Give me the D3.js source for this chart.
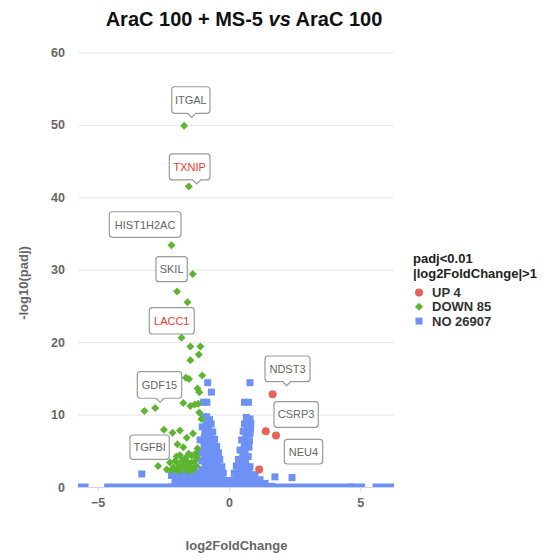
<!DOCTYPE html>
<html><head><meta charset="utf-8">
<script src="https://cdn.jsdelivr.net/npm/d3@7/dist/d3.min.js"></script>
<style>
body{margin:0;background:#fff}
svg{display:block;font-family:"Liberation Sans",Arial,sans-serif}
</style>
</head><body>
<svg id="chart" width="549" height="557"></svg>
<script>
// ---------------- data ----------------
const yTicks = [0, 10, 20, 30, 40, 50, 60];
const xTicks = [-5, 0, 5];
const legendTitle = ["padj<0.01", "|log2FoldChange|>1"];
const legendItems = ["UP 4", "DOWN 85", "NO 26907"];

// UP (red circles)  [log2FoldChange, -log10(padj)]
const upPoints = [[1.66, 12.8], [1.40, 7.7], [1.79, 7.1], [1.15, 2.4]];

// DOWN (green diamonds)
const downPoints = [
  [-1.71, 49.9], [-1.53, 41.5], [-2.19, 33.4], [-1.38, 29.4], [-1.98, 27.0],
  [-1.58, 25.5], [-1.81, 20.6], [-1.47, 19.4], [-1.09, 19.4], [-1.15, 18.3],
  [-1.47, 17.5], [-1.64, 15.1], [-1.52, 14.9], [-1.02, 15.4], [-1.20, 13.6],
  [-1.13, 13.1], [-1.74, 11.6], [-1.47, 11.2], [-1.31, 11.4], [-1.17, 11.5],
  [-2.81, 10.9], [-3.22, 10.5], [-1.13, 10.3], [-1.05, 9.4], [-2.48, 7.9],
  [-2.15, 7.5], [-1.87, 7.8], [-1.61, 6.8], [-1.37, 7.4], [-1.96, 5.9],
  [-1.74, 5.5], [-1.20, 5.3], [-1.87, 4.4], [-1.42, 4.3], [-2.70, 2.9],
  [-2.37, 2.4], [-2.25, 3.4], [-2.12, 2.7], [-2.05, 3.6], [-1.98, 2.4],
  [-1.92, 3.1], [-1.83, 2.6], [-1.78, 3.7], [-1.70, 3.0], [-1.62, 2.4],
  [-1.58, 3.5], [-1.50, 2.8], [-1.44, 3.3], [-1.36, 2.5], [-1.30, 3.6],
  [-1.25, 2.9], [-1.22, 4.1], [-2.18, 2.3], [-1.66, 4.0], [-1.88, 2.2],
  [-1.55, 2.2], [-1.40, 2.3], [-2.00, 4.2], [-1.28, 4.6], [-1.53, 4.6]
];

// NO (blue squares): isolated points
const noPoints = [
  [0.80, 14.4], [0.59, 11.7], [0.74, 11.7], [-0.81, 14.4], [-0.67, 13.1],
  [-0.97, 11.7], [-0.84, 11.7], [-3.32, 1.8], [1.75, 1.4], [2.40, 1.3]
];
// NO: outermost points of the dense left and right clouds (traced around)
const noCloudLeft = [
  [-2.19, 0], [-2.19, 1.6], [-1.98, 2.1], [-1.49, 2.4], [-1.04, 2.4], [-1.04, 3.6],
  [-1.06, 4.7], [-1.10, 6.5], [-1.02, 8.3], [-0.97, 9.7], [-0.85, 9.7], [-0.74, 9.3],
  [-0.68, 8.7], [-0.62, 7.6], [-0.55, 6.6], [-0.47, 5.6], [-0.40, 4.7], [-0.35, 3.8],
  [-0.27, 2.8], [-0.22, 1.9], [-0.12, 0.9]
];
const noCloudRight = [
  [0.10, 0.9], [0.20, 1.9], [0.28, 2.9], [0.36, 3.8], [0.42, 5.1], [0.48, 6.5],
  [0.54, 7.7], [0.59, 8.7], [0.66, 9.6], [0.80, 9.4], [0.83, 8.8], [0.82, 8.0],
  [0.80, 7.4], [0.78, 6.4], [0.76, 5.5], [0.73, 4.2], [0.80, 2.8], [0.99, 1.7],
  [1.18, 1.0], [1.37, 0.5], [1.62, 0.1]
];
// NO: runs of points lying on the x axis [from, to]
const noBaseline = [[-5.72, -5.48], [-4.62, 4.61], [4.69, 5.05], [5.6, 6.3]];

// labelled genes
const labelGenes = ["ITGAL", "TXNIP", "HIST1H2AC", "SKIL", "LACC1", "GDF15", "TGFBI", "NDST3", "CSRP3", "NEU4"];
const labelX = [-1.71, -1.53, -2.19, -1.38, -1.81, -2.81, -2.70, 1.66, 1.79, 1.15];
const labelY = [49.9, 41.5, 33.4, 29.4, 20.6, 10.9, 2.9, 12.8, 7.1, 2.4];
const labelHighlight = [false, true, false, false, true, false, false, false, false, false];

// ---------------- layout ----------------
const plot = {left: 78, right: 394, top: 52.5, bottom: 487};
const colors = {up: "#e5645a", down: "#5cb531", no: "#6e91f5"};
// callout box placement relative to the point (px)
const calloutLayout = [
  {bx: -12.4, by: -38.9, w: 38.3, h: 26.6, pdx: 7.6},
  {bx: -19.5, by: -32.5, w: 40.7, h: 26.0, pdx: 7.9},
  {bx: -62.2, by: -33.4, w: 71.7, h: 25.6, pdx: null},
  {bx: -36.8, by: -17.4, w: 31.3, h: 25.0, pdx: null},
  {bx: -32.2, by: -30.1, w: 45.0, h: 26.3, pdx: null},
  {bx: -17.9, by: -36.4, w: 44.4, h: 26.6, pdx: 4.8},
  {bx: -28.1, by: -31.0, w: 39.3, h: 24.3, pdx: null},
  {bx: -7.6, by: -38.3, w: 45.0, h: 25.7, pdx: 14.1},
  {bx: -2.0, by: -33.9, w: 44.3, h: 25.6, pdx: null},
  {bx: 25.1, by: -30.3, w: 38.4, h: 24.7, pdx: null}
];

const svg = d3.select("#chart");
const x = d3.scaleLinear().domain([-5.75, 6.283]).range([plot.left, plot.right]);
const y = d3.scaleLinear().domain([0, 60]).range([plot.bottom, plot.top]);

// title
const title = svg.append("text").attr("x", 244).attr("y", 26).attr("text-anchor", "middle")
  .attr("font-size", 20).attr("font-weight", "bold").attr("fill", "#111");
title.append("tspan").text("AraC 100 + MS-5 ");
title.append("tspan").attr("font-style", "italic").text("vs");
title.append("tspan").text(" AraC 100");

// grid
svg.append("g").selectAll("line").data(yTicks.filter(d => d > 0)).join("line")
  .attr("x1", plot.left).attr("x2", plot.right)
  .attr("y1", d => y(d) + 0.5).attr("y2", d => y(d) + 0.5)
  .attr("stroke", "#e6e6e6").attr("stroke-width", 1);

// y axis labels
const yAxis = d3.axisLeft(y).tickValues(yTicks).tickSize(0).tickPadding(13);
const gy = svg.append("g").attr("transform", `translate(${plot.left},0)`).call(yAxis);
gy.select(".domain").remove();
gy.selectAll("text").attr("font-family", "'Liberation Sans',Arial,sans-serif")
  .attr("font-size", 12.5).attr("font-weight", "bold").attr("fill", "#666");

svg.append("text").attr("transform", "translate(28,283) rotate(-90)")
  .attr("text-anchor", "middle").attr("font-size", 13).attr("font-weight", "bold")
  .attr("fill", "#666").text("-log10(padj)");

// x axis
const xAxis = d3.axisBottom(x).tickValues(xTicks).tickSize(4).tickPadding(7).tickFormat(d3.format("d"));
const gx = svg.append("g").attr("transform", `translate(0,${plot.bottom})`).call(xAxis);
gx.select(".domain").attr("stroke", "#ccd6eb").attr("d", `M${plot.left},0.5H${plot.right}`);
gx.selectAll(".tick line").attr("stroke", "#ccd6eb");
gx.selectAll("text").attr("font-family", "'Liberation Sans',Arial,sans-serif")
  .attr("font-size", 12.5).attr("font-weight", "bold").attr("fill", "#666");

svg.append("text").attr("x", 236.5).attr("y", 550).attr("text-anchor", "middle")
  .attr("font-size", 13).attr("font-weight", "bold").attr("fill", "#666").text("log2FoldChange");

// clip
svg.append("clipPath").attr("id", "clip").append("rect")
  .attr("x", plot.left).attr("y", plot.top - 10).attr("width", plot.right - plot.left).attr("height", plot.bottom - plot.top + 10);
const pg = svg.append("g").attr("clip-path", "url(#clip)");

// NO series
const sq = 7;
const line = d3.line().x(d => x(d[0])).y(d => y(d[1]));
pg.append("path").datum(noCloudLeft.concat([[-0.12, 0], [-2.19, 0]])).attr("d", line).attr("fill", colors.no);
pg.append("path").datum(noCloudRight.concat([[1.62, 0], [0.10, 0]])).attr("d", line).attr("fill", colors.no);
pg.append("g").selectAll("rect").data(noCloudLeft.concat(noCloudRight)).join("rect")
  .attr("x", d => x(d[0]) - sq / 2).attr("y", d => y(d[1]) - sq / 2)
  .attr("width", sq).attr("height", sq).attr("fill", colors.no);
pg.append("g").selectAll("rect").data(noBaseline).join("rect")
  .attr("x", d => x(d[0]) - sq / 2).attr("y", y(0) - sq / 2)
  .attr("width", d => x(d[1]) - x(d[0]) + sq).attr("height", sq).attr("fill", colors.no);
pg.append("g").selectAll("rect").data(noPoints).join("rect")
  .attr("x", d => x(d[0]) - sq / 2).attr("y", d => y(d[1]) - sq / 2)
  .attr("width", sq).attr("height", sq).attr("fill", colors.no);

// DOWN series
const diamond = "M0,-4L4,0L0,4L-4,0Z";
pg.append("g").selectAll("path").data(downPoints).join("path")
  .attr("transform", d => `translate(${x(d[0])},${y(d[1])})`)
  .attr("d", diamond).attr("fill", colors.down);

// UP series
pg.append("g").selectAll("circle").data(upPoints).join("circle")
  .attr("cx", d => x(d[0])).attr("cy", d => y(d[1])).attr("r", 4).attr("fill", colors.up);

// callouts
const cg = svg.append("g");
labelGenes.forEach((g, i) => {
  const L = calloutLayout[i];
  const px = x(labelX[i]), py = y(labelY[i]);
  const x0 = px + L.bx, y0 = py + L.by, x1 = x0 + L.w, y1 = y0 + L.h, r = 3;
  let d = `M${x0 + r},${y0}H${x1 - r}Q${x1},${y0} ${x1},${y0 + r}V${y1 - r}Q${x1},${y1} ${x1 - r},${y1}`;
  if (L.pdx !== null) {
    const tx = px + L.pdx;
    d += `H${tx + 4}L${tx},${y1 + 4}L${tx - 4},${y1}`;
  }
  d += `H${x0 + r}Q${x0},${y1} ${x0},${y1 - r}V${y0 + r}Q${x0},${y0} ${x0 + r},${y0}Z`;
  cg.append("path").attr("d", d).attr("fill", "rgba(255,255,255,0.9)")
    .attr("stroke", "#9a9a9a").attr("stroke-width", 1.2);
  cg.append("text").attr("x", (x0 + x1) / 2).attr("y", (y0 + y1) / 2 + 4)
    .attr("text-anchor", "middle").attr("font-size", 11)
    .attr("fill", labelHighlight[i] ? "#e8392c" : "#666").text(g);
});

// legend
const lg = svg.append("g");
legendTitle.forEach((t, i) => lg.append("text").attr("x", 413).attr("y", 263 + i * 14.5)
  .attr("font-size", 13).attr("font-weight", "bold").attr("fill", "#222").text(t));
const legendColors = [colors.up, colors.down, colors.no];
legendItems.forEach((t, i) => {
  const cy = 292.5 + i * 14.3;
  if (i === 0) lg.append("circle").attr("cx", 419).attr("cy", cy).attr("r", 4).attr("fill", legendColors[i]);
  else if (i === 1) lg.append("path").attr("transform", `translate(419,${cy})`).attr("d", diamond).attr("fill", legendColors[i]);
  else lg.append("rect").attr("x", 415.5).attr("y", cy - 3.5).attr("width", 7).attr("height", 7).attr("fill", legendColors[i]);
  lg.append("text").attr("x", 432).attr("y", cy + 4.5).attr("font-size", 13).attr("font-weight", "bold")
    .attr("fill", "#333").text(t);
});
</script>
</body></html>
